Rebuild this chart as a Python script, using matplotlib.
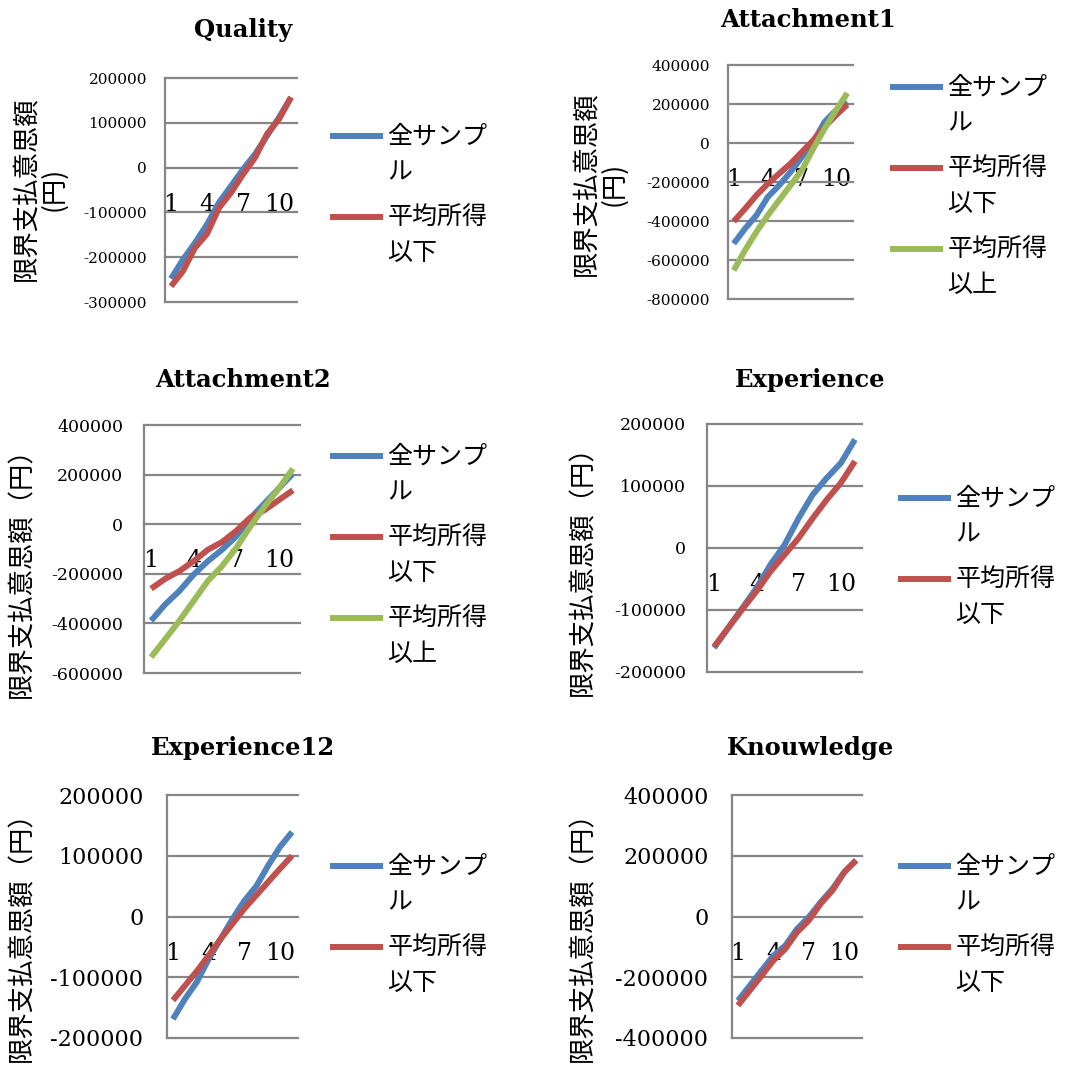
import numpy as np
import matplotlib
matplotlib.use("Agg")
import matplotlib.pyplot as plt
from matplotlib.legend_handler import HandlerLine2D
from matplotlib.lines import Line2D

plt.rcParams["axes.unicode_minus"] = False

W, H = 1071, 1068

# ---------------- data ----------------
categories = list(range(1, 12))
xtick_values = [1, 4, 7, 10]
xtick_labels = ["1", "4", "7", "10"]

label_all = "全サンプ\nル"
label_low = "平均所得\n以下"
label_high = "平均所得\n以上"

titles = ["Quality", "Attachment1", "Attachment2", "Experience", "Experience12", "Knouwledge"]

quality_all = [-248000, -205000, -168000, -127000, -78000, -41000, -4000, 30000, 71000, 112000, 157000]
quality_low = [-265000, -231000, -179000, -148000, -90000, -56000, -15000, 22000, 75000, 108000, 157000]

attach1_all = [-516000, -439000, -371000, -277000, -217000, -149000, -72000, 5000, 108000, 168000, 210000]
attach1_low = [-402000, -337000, -268000, -209000, -157000, -106000, -46000, 14000, 82000, 142000, 197000]
attach1_high = [-653000, -550000, -456000, -371000, -294000, -217000, -140000, -29000, 74000, 168000, 256000]

attach2_all = [-389000, -323000, -269000, -203000, -149000, -103000, -49000, 24000, 84000, 144000, 204000]
attach2_low = [-260000, -220000, -189000, -149000, -103000, -72000, -27000, 27000, 57000, 97000, 137000]
attach2_high = [-536000, -463000, -389000, -309000, -229000, -169000, -96000, -9000, 71000, 144000, 224000]

exper_all = [-161000, -129000, -97000, -65000, -27000, 5000, 48000, 86000, 113000, 137000, 175000]
exper_low = [-159000, -129000, -99000, -70000, -38000, -11000, 16000, 48000, 78000, 105000, 140000]

exper12_all = [-169000, -136000, -108000, -70000, -37000, -4000, 26000, 50000, 84000, 115000, 139000]
exper12_low = [-138000, -114000, -90000, -64000, -37000, -12000, 13000, 35000, 57000, 79000, 100000]

know_all = [-277000, -228000, -178000, -129000, -96000, -41000, -2000, 47000, 91000, 146000, 185000]
know_low = [-293000, -244000, -195000, -145000, -107000, -52000, -13000, 42000, 86000, 146000, 185000]

yticks_quality = [-300000, -200000, -100000, 0, 100000, 200000]
yticks_attach1 = [-800000, -600000, -400000, -200000, 0, 200000, 400000]
yticks_attach2 = [-600000, -400000, -200000, 0, 200000, 400000]
yticks_exper = [-200000, -100000, 0, 100000, 200000]
yticks_exper12 = [-200000, -100000, 0, 100000, 200000]
yticks_know = [-400000, -200000, 0, 200000, 400000]

ylabel_two = "限界支払意思額\n(円)"
ylabel_one = "限界支払意思額（円）"

# ---------------- style ----------------
C_BLUE = "#4F81BD"
C_RED = "#C0504D"
C_GREEN = "#9BBB59"
GRID = "#868686"
NUM_FONT = "DejaVu Serif"
CJK = ["Noto Sans CJK JP", "DejaVu Sans"]

fig = plt.figure(figsize=(W / 100, H / 100), dpi=100)


class FirstLineHandler(HandlerLine2D):
    def __init__(self, shift, **kw):
        super().__init__(**kw)
        self.shift = shift

    def create_artists(self, legend, orig_handle, xdescent, ydescent, width, height, fontsize, trans):
        arts = super().create_artists(legend, orig_handle, xdescent, ydescent, width, height, fontsize, trans)
        for a in arts:
            a.set_ydata(np.asarray(a.get_ydata(), float) + self.shift * fontsize)
        return arts


panels = [
    dict(series=[(quality_all, C_BLUE, label_all), (quality_low, C_RED, label_low)],
         yticks=yticks_quality, rect=(165, 78, 297, 302), ysize=11, ypad=13,
         tpos=(243, 30), ylabel=ylabel_two, ylpos=(40, 189), lpos=(330, 124)),
    dict(series=[(attach1_all, C_BLUE, label_all), (attach1_low, C_RED, label_low),
                 (attach1_high, C_GREEN, label_high)],
         yticks=yticks_attach1, rect=(728, 65, 853, 299), ysize=11, ypad=13,
         tpos=(808, 20), ylabel=ylabel_two, ylpos=(600, 184), lpos=(890, 75)),
    dict(series=[(attach2_all, C_BLUE, label_all), (attach2_low, C_RED, label_low),
                 (attach2_high, C_GREEN, label_high)],
         yticks=yticks_attach2, rect=(144, 425, 300, 673), ysize=12.5, ypad=15,
         tpos=(243, 380), ylabel=ylabel_one, ylpos=(22, 566), lpos=(330, 444)),
    dict(series=[(exper_all, C_BLUE, label_all), (exper_low, C_RED, label_low)],
         yticks=yticks_exper, rect=(707, 424, 862, 672), ysize=12.5, ypad=15,
         tpos=(810, 380), ylabel=ylabel_one, ylpos=(583, 564), lpos=(898, 486)),
    dict(series=[(exper12_all, C_BLUE, label_all), (exper12_low, C_RED, label_low)],
         yticks=yticks_exper12, rect=(167, 795, 298, 1038), ysize=16, ypad=17,
         tpos=(243, 748), ylabel=ylabel_one, ylpos=(22, 930), lpos=(330, 854)),
    dict(series=[(know_all, C_BLUE, label_all), (know_low, C_RED, label_low)],
         yticks=yticks_know, rect=(732, 795, 862, 1038), ysize=16, ypad=17,
         tpos=(810, 748), ylabel=ylabel_one, ylpos=(583, 930), lpos=(898, 854)),
]

for title, p in zip(titles, panels):
    l, t, r, b = p["rect"]
    ax = fig.add_axes([l / W, 1 - b / H, (r - l) / W, (b - t) / H])
    ax.spines["bottom"].set_position(("data", 0))
    ax.spines["bottom"].set_visible(False)
    ax.spines["top"].set_visible(False)
    ax.spines["right"].set_visible(False)
    ax.spines["left"].set_color(GRID)
    ax.spines["left"].set_linewidth(1.6)
    handles = []
    for vals, col, lab in p["series"]:
        ln, = ax.plot(categories, vals, color=col, lw=4.3, solid_capstyle="butt",
                      solid_joinstyle="round", label=lab, zorder=3)
        handles.append(ln)
    ax.set_xlim(0.5, 11.5)
    ax.set_ylim(p["yticks"][0], p["yticks"][-1])
    ax.set_yticks(p["yticks"])
    ax.set_yticklabels([str(v) for v in p["yticks"]], fontsize=p["ysize"], family=NUM_FONT)
    ax.set_xticks(xtick_values)
    ax.set_xticklabels(xtick_labels, fontsize=17, family=NUM_FONT)
    ax.tick_params(axis="y", length=0, pad=p["ypad"])
    ax.tick_params(axis="x", length=0, pad=18)
    ax.set_axisbelow(True)
    ax.yaxis.grid(True, color=GRID, lw=1.6)
    for gl in ax.yaxis.get_gridlines():
        gl.set_clip_on(False)
    ax.patch.set_visible(False)

    fig.text(p["tpos"][0] / W, 1 - p["tpos"][1] / H, title, ha="center", va="center",
             fontsize=17.5, fontweight="bold", family=NUM_FONT)
    fig.text(p["ylpos"][0] / W, 1 - p["ylpos"][1] / H, p["ylabel"], rotation=90,
             ha="center", va="center", multialignment="center", fontsize=19,
             family=CJK, linespacing=1.0)

    leg = ax.legend(handles=handles, loc="upper left",
                    bbox_to_anchor=(p["lpos"][0] / W, 1 - p["lpos"][1] / H),
                    bbox_transform=fig.transFigure, frameon=False,
                    prop={"family": CJK, "size": 18}, handlelength=2.1,
                    handletextpad=0.2, labelspacing=0.8, borderpad=0, borderaxespad=0,
                    handler_map={Line2D: FirstLineHandler(0.8)})
    for lh in leg.get_lines():
        lh.set_linewidth(4.3)
    for tx in leg.get_texts():
        tx.set_linespacing(1.45)

fig.savefig("out.png", dpi=100)
